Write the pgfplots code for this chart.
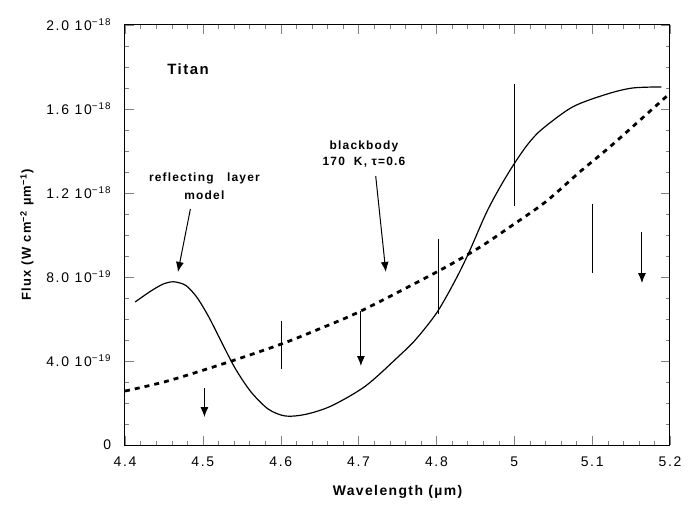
\documentclass[border=0pt]{standalone}
\usepackage{fontspec}
\setmainfont{Liberation Sans}
\newfontfamily\spacedfont[LetterSpace=10]{Liberation Sans}
\newfontfamily\tickfont[LetterSpace=12]{Liberation Sans}
\usepackage{pgfplots}
\pgfplotsset{compat=1.18}
\usetikzlibrary{arrows.meta}

% flux in units of 1e-19 W cm^-2 um^-1; x is the axis position (the "5" label sits at 4.9)
\pgfplotstableread{
x      y
4.413  6.81
4.434  7.35
4.450  7.68
4.463  7.77
4.478  7.60
4.492  7.05
4.507  6.14
4.524  4.90
4.542  3.62
4.562  2.52
4.584  1.71
4.606  1.38
4.632  1.46
4.665  1.86
4.709  2.81
4.752  4.24
4.774  5.05
4.801  6.33
4.825  7.90
4.842  9.19
4.864  11.05
4.882  12.30
4.900  13.40
4.918  14.35
4.936  15.05
4.975  16.10
5.019  16.71
5.052  17.00
5.089  17.05
}\reflecting

\pgfplotstableread{
x      y
4.400  2.57
4.455  3.05
4.533  3.95
4.601  4.81
4.649  5.52
4.703  6.38
4.803  8.29
4.855  9.40
4.897  10.45
4.941  11.60
4.984  13.00
5.026  14.30
5.100  16.75
}\blackbody

\begin{document}
\begin{tikzpicture}
\begin{axis}[
    at={(0bp,0bp)}, anchor=south west,
    scale only axis,
    width=545bp, height=420bp,
    xmin=4.4, xmax=5.1,
    ymin=0, ymax=20,
    xtick={4.4,4.5,4.6,4.7,4.8,4.9,5.0,5.1},
    xticklabels={4.4,4.5,4.6,4.7,4.8,5,5.1,5.2},
    ytick={0,4,8,12,16,20},
    yticklabels={0,
        4.0 10\textsuperscript{−19},
        8.0 10\textsuperscript{−19},
        1.2 10\textsuperscript{−18},
        1.6 10\textsuperscript{−18},
        2.0 10\textsuperscript{−18}},
    minor x tick num=4,
    minor y tick num=3,
    xtick align=inside,
    ytick align=inside,
    major tick length=0.3cm,
    minor tick length=0.15cm,
    line width=1pt,
    ticklabel style={font=\tickfont\fontsize{14}{16}\selectfont},
    xticklabel style={yshift=-8bp},
    yticklabel style={xshift=-10bp},
    xlabel={\spacedfont\bfseries Wavelength (µm)},
    ylabel={\spacedfont\bfseries Flux (W cm\textsuperscript{−2} µm\textsuperscript{−1})},
    xlabel style={font=\fontsize{14}{16}\selectfont, at={(axis description cs:0.5,-0.112)}, anchor=center},
    ylabel style={font=\fontsize{13}{15}\selectfont, at={(axis description cs:-0.18,0.5)}, anchor=center},
]
\addplot[black, line width=1.2pt, smooth] table[x=x, y=y] {\reflecting};
\addplot[black, line width=2.8pt, dash pattern=on 5bp off 5bp, smooth] table[x=x, y=y] {\blackbody};

% measurements
\addplot[black, line width=1pt] coordinates {(4.601,5.90) (4.601,3.62)};
\addplot[black, line width=1pt] coordinates {(4.803,9.81) (4.803,6.24)};
\addplot[black, line width=1pt] coordinates {(4.900,17.19) (4.900,11.38)};
\addplot[black, line width=1pt] coordinates {(5.000,11.48) (5.000,8.19)};

% upper limits
\addplot[black, line width=1pt, -{Latex[length=10bp,width=8bp]}] coordinates {(4.502,2.71) (4.502,1.33)};
\addplot[black, line width=1pt, -{Latex[length=10bp,width=8bp]}] coordinates {(4.703,6.38) (4.703,3.76)};
\addplot[black, line width=1pt, -{Latex[length=10bp,width=8bp]}] coordinates {(5.064,10.14) (5.064,7.71)};

\node[font=\spacedfont\bfseries\fontsize{15}{17}\selectfont] at (axis cs:4.481,17.9) {Titan};
\node[font=\spacedfont\bfseries\fontsize{12}{18}\selectfont, align=center] at (axis cs:4.502,12.33) {reflecting\ \ \ layer\\model};
\node[font=\spacedfont\bfseries\fontsize{12}{16}\selectfont, align=center] at (axis cs:4.707,13.86) {blackbody\\170\ \ K, τ=0.6};
\draw[black, line width=1pt, -{Latex[length=10bp,width=8bp]}] (axis cs:4.484,11.24) -- (axis cs:4.468,8.24);
\draw[black, line width=1pt, -{Latex[length=10bp,width=8bp]}] (axis cs:4.722,12.81) -- (axis cs:4.735,8.24);
\end{axis}
\path (-125bp,-60bp) (564bp,445bp);
\end{tikzpicture}
\end{document}
